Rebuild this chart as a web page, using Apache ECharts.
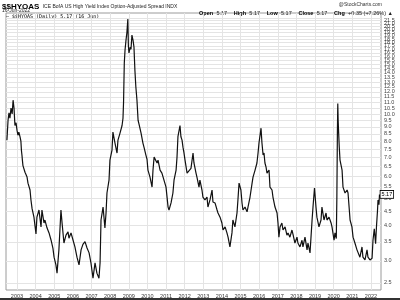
<!DOCTYPE html>
<html><head><meta charset="utf-8">
<script src="https://cdn.jsdelivr.net/npm/echarts@6/dist/echarts.min.js"></script>
<style>html,body{margin:0;padding:0;background:#fff}#c{width:400px;height:300px}</style>
</head><body><div id="c"></div>
<script>
const years = [
2002.46,2002.52,2002.57,2002.62,2002.68,2002.74,2002.79,2002.84,2002.89,2002.95,
2003.00,2003.05,2003.10,2003.16,2003.21,2003.24,2003.27,2003.29,2003.32,2003.43,
2003.54,2003.59,2003.70,2003.75,2003.81,2003.91,2004.02,2004.07,2004.18,2004.29,
2004.34,2004.45,2004.50,2004.61,2004.72,2004.83,2004.93,2004.99,2005.09,2005.15,
2005.25,2005.36,2005.42,2005.52,2005.63,2005.74,2005.79,2005.90,2006.01,2006.11,
2006.22,2006.33,2006.44,2006.54,2006.65,2006.76,2006.87,2006.97,2007.08,2007.19,
2007.29,2007.40,2007.46,2007.51,2007.62,2007.72,2007.78,2007.83,2007.94,2007.99,
2008.10,2008.15,2008.26,2008.37,2008.42,2008.53,2008.64,2008.69,2008.72,2008.76,
2008.80,2008.85,2008.90,2008.95,2008.98,2009.01,2009.08,2009.12,2009.17,2009.23,
2009.28,2009.33,2009.38,2009.44,2009.50,2009.55,2009.66,2009.76,2009.82,2009.92,
2009.98,2010.03,2010.14,2010.25,2010.30,2010.36,2010.41,2010.52,2010.57,2010.68,
2010.78,2010.89,2011.00,2011.11,2011.16,2011.27,2011.37,2011.43,2011.54,2011.59,
2011.64,2011.75,2011.80,2011.86,2011.91,2011.96,2012.02,2012.13,2012.23,2012.34,
2012.45,2012.50,2012.61,2012.66,2012.77,2012.82,2012.93,2012.98,2013.09,2013.20,
2013.25,2013.36,2013.47,2013.52,2013.63,2013.74,2013.79,2013.90,2014.00,2014.06,
2014.17,2014.27,2014.33,2014.43,2014.54,2014.59,2014.70,2014.81,2014.86,2014.92,
2015.02,2015.08,2015.13,2015.24,2015.35,2015.40,2015.51,2015.62,2015.67,2015.78,
2015.88,2015.94,2015.99,2016.10,2016.15,2016.21,2016.26,2016.31,2016.37,2016.42,
2016.53,2016.58,2016.69,2016.74,2016.85,2016.96,2017.01,2017.06,2017.12,2017.22,
2017.28,2017.39,2017.49,2017.55,2017.65,2017.76,2017.82,2017.92,2018.03,2018.08,
2018.19,2018.30,2018.35,2018.46,2018.57,2018.62,2018.73,2018.84,2018.89,2018.97,
2019.05,2019.10,2019.21,2019.32,2019.37,2019.48,2019.59,2019.64,2019.75,2019.86,
2019.91,2020.02,2020.07,2020.14,2020.17,2020.20,2020.22,2020.24,2020.26,2020.30,
2020.34,2020.45,2020.50,2020.61,2020.72,2020.77,2020.88,2020.98,2021.04,2021.14,
2021.25,2021.31,2021.41,2021.52,2021.57,2021.68,2021.79,2021.84,2021.95,2022.06,
2022.11,2022.18,2022.25,2022.30,2022.35,2022.38,2022.43,2022.46
];
const spread = [
8.07,9.5,10.1,9.66,10.5,10.0,11.2,10.5,9.1,9.3,
8.76,8.4,8.62,8.3,8.0,7.4,7.1,6.85,6.55,6.2,
5.96,5.67,5.36,4.94,4.6,4.29,3.74,4.29,4.55,3.96,
4.55,4.09,4.19,3.93,3.77,3.55,3.32,3.09,2.90,2.71,
3.28,4.55,4.09,3.47,3.70,3.80,3.61,3.77,3.55,3.36,
3.09,2.90,3.28,3.43,3.51,3.33,3.20,2.95,2.60,2.95,
2.71,2.60,2.95,4.19,4.66,3.93,4.44,5.23,5.81,6.85,
7.44,8.62,7.88,7.26,8.07,8.55,9.1,9.66,11.0,15.2,
16.9,18.3,19.5,21.8,17.5,16.5,17.3,17.0,19.1,18.3,
17.3,14.3,12.5,11.2,9.5,9.2,8.55,7.88,7.6,7.14,
6.9,6.31,5.96,5.49,6.3,7.02,7.1,6.69,6.85,6.31,
6.16,5.81,5.49,4.66,4.55,4.82,5.23,5.81,6.31,7.02,
8.3,9.1,8.3,8.07,7.62,7.3,6.85,6.16,6.06,6.4,
7.26,6.69,6.16,5.96,5.49,5.81,5.36,5.06,4.94,5.06,
4.66,4.94,5.36,4.86,4.82,4.55,4.44,4.29,4.09,3.86,
3.96,3.77,3.64,3.36,3.77,4.19,3.96,4.44,4.94,5.67,
5.36,4.82,4.55,4.66,4.48,4.66,5.06,5.67,5.96,6.31,
6.69,7.26,7.88,8.9,7.88,7.14,7.26,6.69,6.47,6.16,
6.31,5.49,5.36,5.06,4.66,4.44,4.09,3.64,3.96,4.09,
3.86,3.96,3.70,3.77,3.64,3.86,3.72,3.47,3.64,3.47,
3.36,3.55,3.36,3.64,3.28,3.47,3.20,4.19,4.66,5.45,
4.66,4.29,3.96,4.19,4.66,4.19,4.44,4.19,4.29,4.09,
3.96,3.55,3.77,3.6,5.0,8.7,10.9,9.5,8.76,7.62,
6.85,6.31,5.49,5.23,5.36,5.23,4.19,3.96,3.64,3.47,
3.28,3.28,3.09,3.36,3.09,3.02,3.28,3.09,3.02,3.06,
3.55,3.9,3.45,4.0,4.5,4.94,4.75,5.17
];
const yearTicks = [2003,2004,2005,2006,2007,2008,2009,2010,2011,2012,2013,2014,2015,2016,2017,2018,2019,2020,2021,2022];
const spreadTicks = [2.5,3.0,3.5,4.0,4.5,5.0,5.5,6.0,6.5,7.0,7.5,8.0,8.5,9.0,9.5,10.0,10.5,11.0,11.5,12.0,12.5,13.0,13.5,14.0,14.5,15.0,15.5,16.0,16.5,17.0,17.5,18.0,18.5,19.0,19.5,20.0,20.5,21.0,21.5,22.0];

const chart = echarts.init(document.getElementById('c'), null, {renderer: 'canvas'});
const lastVal = spread[spread.length - 1];
chart.setOption({
  animation: false,
  backgroundColor: '#fff',
  grid: {left: 6, right: 19, top: 13, bottom: 10, show: true, borderColor: '#9a9a9a', borderWidth: 1, backgroundColor: 'transparent'},
  xAxis: {
    type: 'value', min: 2002.41, max: 2022.54,
    axisLine: {show: false},
    axisTick: {show: false, customValues: yearTicks},
    axisLabel: {customValues: yearTicks, formatter: v => String(Math.round(v)), fontSize: 5.5, color: '#333', margin: 3, fontFamily: 'Liberation Sans'},
    splitLine: {show: true, lineStyle: {color: '#e4e4e4', width: 1}}
  },
  yAxis: {
    type: 'log', position: 'right', min: 2.36, max: 22.9,
    axisLine: {show: false},
    axisTick: {show: false, customValues: spreadTicks},
    axisLabel: {customValues: spreadTicks, formatter: v => v.toFixed(1), fontSize: 5.5, color: '#444', margin: 3, fontFamily: 'Liberation Sans', hideOverlap: false},
    splitLine: {show: true, lineStyle: {color: '#e4e4e4', width: 1}}
  },
  series: [{
    type: 'line',
    data: years.map((y, i) => [y, spread[i]]),
    showSymbol: false,
    lineStyle: {color: '#111', width: 1.2},
    endLabel: {
      show: true, formatter: () => lastVal.toFixed(2), fontSize: 5.5, color: '#000',
      backgroundColor: '#fff', borderColor: '#000', borderWidth: 0.8, padding: [1, 1, 0, 1], distance: 1,
      fontFamily: 'Liberation Sans'
    }
  }],
  graphic: [
    {type: 'text', left: 2, top: 1, style: {
      text: '{b|$$HYOAS} {n|ICE BofA US High Yield Index Option-Adjusted Spread INDX}',
      rich: {b: {fontSize: 8, fontWeight: 'bold', fill: '#000', fontFamily: 'Liberation Sans'},
             n: {fontSize: 5, fill: '#222', fontFamily: 'Liberation Sans'}}}},
    {type: 'text', left: 2, top: 8, style: {text: '16-Jun-2022', fontSize: 5, fill: '#222', fontFamily: 'Liberation Sans'}},
    {type: 'text', left: 6, top: 14, style: {text: '\u2014 $$HYOAS (Daily) 5.17 (16 Jun)', fontSize: 5, fill: '#000', fontFamily: 'DejaVu Sans Mono'}},
    {type: 'text', right: 18, top: 2, style: {text: '@StockCharts.com', fontSize: 5, fill: '#333', fontFamily: 'Liberation Sans'}},
    {type: 'text', right: 7, top: 7.5, style: {
      text: '{b|Open} {n|5.17}  {b|High} {n|5.17}  {b|Low} {n|5.17}  {b|Close} {n|5.17}  {b|Chg} {n|+0.35 (+7.26%) \u25b2}',
      rich: {b: {fontSize: 5.5, fontWeight: 'bold', fill: '#000', fontFamily: 'Liberation Sans'},
             n: {fontSize: 5.5, fill: '#222', fontFamily: 'Liberation Sans'}}}},
    {type: 'rect', left: 0, top: 298, shape: {width: 400, height: 2}, style: {fill: '#333'}}
  ]
});
</script></body></html>
